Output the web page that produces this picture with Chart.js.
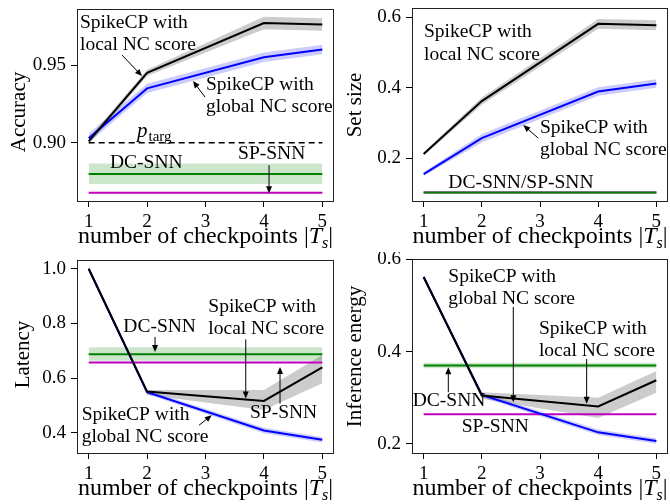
<!DOCTYPE html>
<html>
<head>
<meta charset="utf-8">
<script src="https://cdn.jsdelivr.net/npm/chart.js@4.4.0/dist/chart.umd.min.js"></script>
<style>
  body { margin: 0; background: #fff; width: 670px; height: 504px; position: relative; overflow: hidden; }
  canvas { position: absolute; }
</style>
</head>
<body>
<canvas id="acc" width="335" height="252" style="left:0;top:0"></canvas>
<canvas id="set" width="335" height="252" style="left:335px;top:0"></canvas>
<canvas id="lat" width="335" height="252" style="left:0;top:252px"></canvas>
<canvas id="energy" width="335" height="252" style="left:335px;top:252px"></canvas>
<script>
// ------------------ DATA ------------------ //
const checkpoints = [1, 2, 4, 5];
const xTicks = [1, 2, 3, 4, 5];

// accuracy
const accLocal = [0.901, 0.945, 0.977, 0.976];
const accLocalLo = [0.899, 0.943, 0.973, 0.972];
const accLocalHi = [0.903, 0.947, 0.981, 0.980];
const accGlobal = [0.903, 0.935, 0.955, 0.960];
const accGlobalLo = [0.900, 0.932, 0.952, 0.957];
const accGlobalHi = [0.906, 0.938, 0.958, 0.963];
const accDC = 0.880, accDCLo = 0.8735, accDCHi = 0.8867;
const accSP = 0.868;
const accTarget = 0.90;
const accTicks = [0.90, 0.95];

// set size
const setLocal = [0.212, 0.362, 0.581, 0.577];
const setLocalLo = [0.207, 0.352, 0.567, 0.563];
const setLocalHi = [0.217, 0.372, 0.595, 0.591];
const setGlobal = [0.155, 0.257, 0.389, 0.412];
const setGlobalLo = [0.150, 0.245, 0.377, 0.400];
const setGlobalHi = [0.160, 0.269, 0.401, 0.424];
const setBase = 0.103;
const setTicks = [0.2, 0.4, 0.6];

// latency
const latLocal = [1.0, 0.551, 0.517, 0.640];
const latLocalLo = [1.0, 0.539, 0.484, 0.582];
const latLocalHi = [1.0, 0.557, 0.557, 0.685];
const latGlobal = [1.0, 0.549, 0.409, 0.375];
const latGlobalLo = [1.0, 0.541, 0.399, 0.365];
const latGlobalHi = [1.0, 0.557, 0.419, 0.385];
const latDC = 0.688, latDCLo = 0.664, latDCHi = 0.713;
const latSP = 0.657;
const latTicks = [0.4, 0.6, 0.8, 1.0];

// inference energy
const enLocal = [0.562, 0.305, 0.281, 0.338];
const enLocalLo = [0.562, 0.298, 0.256, 0.311];
const enLocalHi = [0.562, 0.312, 0.300, 0.358];
const enGlobal = [0.562, 0.306, 0.225, 0.206];
const enGlobalLo = [0.562, 0.301, 0.219, 0.200];
const enGlobalHi = [0.562, 0.311, 0.231, 0.212];
const enDC = 0.370, enDCLo = 0.364, enDCHi = 0.376;
const enSP = 0.264;
const enTicks = [0.2, 0.4, 0.6];

// ------------------ STYLE HELPERS ------------------ //
const SERIF = '"Liberation Serif", "Times New Roman", serif';
const BLACK = "#000000", BLUE = "#0000ff", GREEN = "#008000", MAGENTA = "#bf00bf";

function pts(ys) {
  return checkpoints.map((x, i) => ({ x: x, y: ys[i] }));
}
function flat(v) {
  const first = checkpoints[0], last = checkpoints[checkpoints.length - 1];
  return [{ x: first, y: v }, { x: last, y: v }];
}
function line(data, color, order, dash) {
  return {
    data: data, borderColor: color, borderWidth: dash ? 1.5 : 2, borderDash: dash || [],
    pointRadius: 0, fill: false, order: order, tension: 0
  };
}
// two datasets, the second one fills down to the first
function band(lo, hi, color) {
  return [
    { data: lo, borderWidth: 0, borderColor: "transparent", pointRadius: 0, fill: false, order: 9 },
    { data: hi, borderWidth: 0, borderColor: "transparent", pointRadius: 0, fill: "-1", backgroundColor: color, order: 9 }
  ];
}

function arrow(ctx, x1, y1, x2, y2) {
  const a = Math.atan2(y2 - y1, x2 - x1);
  const len = 7, w = 3;
  ctx.beginPath();
  ctx.moveTo(x1, y1);
  ctx.lineTo(x2 - Math.cos(a) * len * 0.8, y2 - Math.sin(a) * len * 0.8);
  ctx.stroke();
  ctx.beginPath();
  ctx.moveTo(x2, y2);
  ctx.lineTo(x2 - Math.cos(a) * len - Math.sin(a) * w, y2 - Math.sin(a) * len + Math.cos(a) * w);
  ctx.lineTo(x2 - Math.cos(a) * len + Math.sin(a) * w, y2 - Math.sin(a) * len - Math.cos(a) * w);
  ctx.closePath();
  ctx.fill();
}

function makePanel(id, cfg) {
  const notes = {
    id: "notes",
    afterDraw(chart) {
      const ctx = chart.ctx, a = chart.chartArea;
      const sx = chart.scales.x, sy = chart.scales.y;
      ctx.save();
      // box around the axes
      ctx.strokeStyle = "#222";
      ctx.lineWidth = 1;
      ctx.strokeRect(a.left + 0.5, a.top + 0.5, a.right - a.left - 1, a.bottom - a.top - 1);

      ctx.fillStyle = BLACK;
      ctx.strokeStyle = BLACK;
      ctx.textBaseline = "alphabetic";
      ctx.textAlign = "left";
      ctx.font = "19.5px " + SERIF;
      cfg.texts.forEach(t => {
        ctx.fillText(t[0], sx.getPixelForValue(t[1]), sy.getPixelForValue(t[2]));
      });
      ctx.lineWidth = 1;
      cfg.arrows.forEach(r => {
        arrow(ctx, sx.getPixelForValue(r[0]), sy.getPixelForValue(r[1]),
                   sx.getPixelForValue(r[2]), sy.getPixelForValue(r[3]));
      });
      if (cfg.ptarg) {
        const px = sx.getPixelForValue(cfg.ptarg[0]), py = sy.getPixelForValue(cfg.ptarg[1]);
        ctx.font = "italic 21px " + SERIF;
        ctx.fillText("p", px, py);
        const w = ctx.measureText("p").width;
        ctx.font = "15px " + SERIF;
        ctx.fillText("targ", px + w + 1, py + 4);
      }

      // x axis label: number of checkpoints |T_s|
      const parts = [
        ["number of checkpoints |", "24px " + SERIF, 0],
        ["T", "italic 24px " + SERIF, 0],
        ["s", "italic 16px " + SERIF, 5],
        ["|", "24px " + SERIF, 0]
      ];
      let total = 0;
      parts.forEach(p => { ctx.font = p[1]; total += ctx.measureText(p[0]).width; });
      let cx = (a.left + a.right) / 2 - total / 2;
      const by = a.bottom + 41;
      parts.forEach(p => {
        ctx.font = p[1];
        ctx.fillText(p[0], cx, by + p[2]);
        cx += ctx.measureText(p[0]).width;
      });

      // y axis label
      ctx.translate(cfg.yTitle[1], cfg.yTitle[2]);
      ctx.rotate(-Math.PI / 2);
      ctx.font = "21px " + SERIF;
      ctx.textAlign = "center";
      ctx.textBaseline = "middle";
      ctx.fillText(cfg.yTitle[0], 0, 0);
      ctx.restore();
    }
  };

  return new Chart(document.getElementById(id), {
    type: "line",
    data: { datasets: cfg.datasets },
    options: {
      responsive: false,
      animation: false,
      layout: { padding: { top: cfg.top, right: cfg.right, left: 0, bottom: 0 } },
      plugins: { legend: { display: false }, tooltip: { enabled: false } },
      scales: {
        x: {
          type: "linear", min: 0.8, max: 5.2,
          afterBuildTicks: s => { s.ticks = xTicks.map(v => ({ value: v })); },
          afterFit: s => { s.height = 252 - 202; s.paddingLeft = 0; s.paddingRight = 0; },
          ticks: { color: BLACK, font: { family: SERIF, size: 19 }, padding: 4, callback: v => String(v) },
          grid: { drawOnChartArea: false, tickLength: 5, color: BLACK },
          border: { display: false }
        },
        y: {
          type: "linear", min: cfg.ymin, max: cfg.ymax,
          afterBuildTicks: s => { s.ticks = cfg.yTicks.map(v => ({ value: v })); },
          afterFit: s => { s.width = 77; s.paddingTop = 0; s.paddingBottom = 0; },
          ticks: { color: BLACK, font: { family: SERIF, size: 19 }, padding: 5, callback: v => v.toFixed(cfg.digits) },
          grid: { drawOnChartArea: false, tickLength: 6, color: BLACK },
          border: { display: false }
        }
      }
    },
    plugins: [notes]
  });
}

// ------------------ PANELS ------------------ //
makePanel("acc", {
  top: 9, right: 1, ymin: 0.862, ymax: 0.986, yTicks: accTicks, digits: 2,
  yTitle: ["Accuracy", 19, 112],
  datasets: [
    ...band(pts(accLocalLo), pts(accLocalHi), "rgba(0,0,0,0.2)"),
    ...band(pts(accGlobalLo), pts(accGlobalHi), "rgba(0,0,255,0.2)"),
    ...band(flat(accDCLo), flat(accDCHi), "rgba(0,128,0,0.2)"),
    line(flat(accTarget), BLACK, 4, [6, 4]),
    line(flat(accSP), MAGENTA, 3),
    line(flat(accDC), GREEN, 2),
    line(pts(accGlobal), BLUE, 1),
    line(pts(accLocal), BLACK, 0)
  ],
  texts: [
    ["SpikeCP with", 0.851, 0.9736], ["local NC score", 0.851, 0.9597],
    ["SpikeCP with", 3.009, 0.9339], ["global NC score", 3.009, 0.9198],
    ["DC-SNN", 1.365, 0.8837], ["SP-SNN", 3.557, 0.8895]
  ],
  arrows: [[1.571, 0.9564, 1.913, 0.9429], [2.992, 0.9294, 2.786, 0.9397], [4.088, 0.8857, 4.088, 0.8676]],
  ptarg: [1.827, 0.9037]
});

makePanel("set", {
  top: 8, right: 2, ymin: 0.076, ymax: 0.626, yTicks: setTicks, digits: 1,
  yTitle: ["Set size", 20.5, 105],
  datasets: [
    ...band(pts(setLocalLo), pts(setLocalHi), "rgba(0,0,0,0.2)"),
    ...band(pts(setGlobalLo), pts(setGlobalHi), "rgba(0,0,255,0.2)"),
    line(flat(setBase), MAGENTA, 3),
    line(flat(setBase), GREEN, 2),
    line(pts(setGlobal), BLUE, 1),
    line(pts(setLocal), BLACK, 0)
  ],
  texts: [
    ["SpikeCP with", 1.006, 0.545], ["local NC score", 1.006, 0.479],
    ["SpikeCP with", 3.0, 0.271], ["global NC score", 3.0, 0.209],
    ["DC-SNN/SP-SNN", 1.424, 0.115]
  ],
  arrows: [[2.970, 0.257, 2.712, 0.294]]
});

makePanel("lat", {
  top: 8, right: 1, ymin: 0.323, ymax: 1.032, yTicks: latTicks, digits: 1,
  yTitle: ["Latency", 23, 102.5],
  datasets: [
    ...band(pts(latLocalLo), pts(latLocalHi), "rgba(0,0,0,0.2)"),
    ...band(pts(latGlobalLo), pts(latGlobalHi), "rgba(0,0,255,0.2)"),
    ...band(flat(latDCLo), flat(latDCHi), "rgba(0,128,0,0.2)"),
    line(flat(latSP), MAGENTA, 3),
    line(flat(latDC), GREEN, 2),
    line(pts(latGlobal), BLUE, 1),
    line(pts(latLocal), BLACK, 0)
  ],
  texts: [
    ["SpikeCP with", 3.048, 0.842], ["local NC score", 3.048, 0.763],
    ["DC-SNN", 1.593, 0.769], ["SP-SNN", 3.762, 0.453],
    ["SpikeCP with", 0.880, 0.447], ["global NC score", 0.880, 0.367]
  ],
  arrows: [[2.136, 0.751, 2.136, 0.696], [3.689, 0.742, 3.689, 0.526],
           [4.276, 0.507, 4.276, 0.641], [2.889, 0.428, 3.107, 0.465]]
});

makePanel("energy", {
  top: 7, right: 2, ymin: 0.178, ymax: 0.601, yTicks: enTicks, digits: 1,
  yTitle: ["Inference energy", 20.8, 104.5],
  datasets: [
    ...band(pts(enLocalLo), pts(enLocalHi), "rgba(0,0,0,0.2)"),
    ...band(pts(enGlobalLo), pts(enGlobalHi), "rgba(0,0,255,0.2)"),
    ...band(flat(enDCLo), flat(enDCHi), "rgba(0,128,0,0.2)"),
    line(flat(enSP), MAGENTA, 3),
    line(flat(enDC), GREEN, 2),
    line(pts(enGlobal), BLUE, 1),
    line(pts(enLocal), BLACK, 0)
  ],
  texts: [
    ["SpikeCP with", 1.424, 0.552], ["global NC score", 1.424, 0.504],
    ["SpikeCP with", 2.982, 0.439], ["local NC score", 2.982, 0.390],
    ["DC-SNN", 0.812, 0.282], ["SP-SNN", 1.654, 0.225]
  ],
  arrows: [[2.541, 0.497, 2.541, 0.290], [3.802, 0.384, 3.802, 0.287], [1.424, 0.312, 1.424, 0.366]]
});
</script>
</body>
</html>
